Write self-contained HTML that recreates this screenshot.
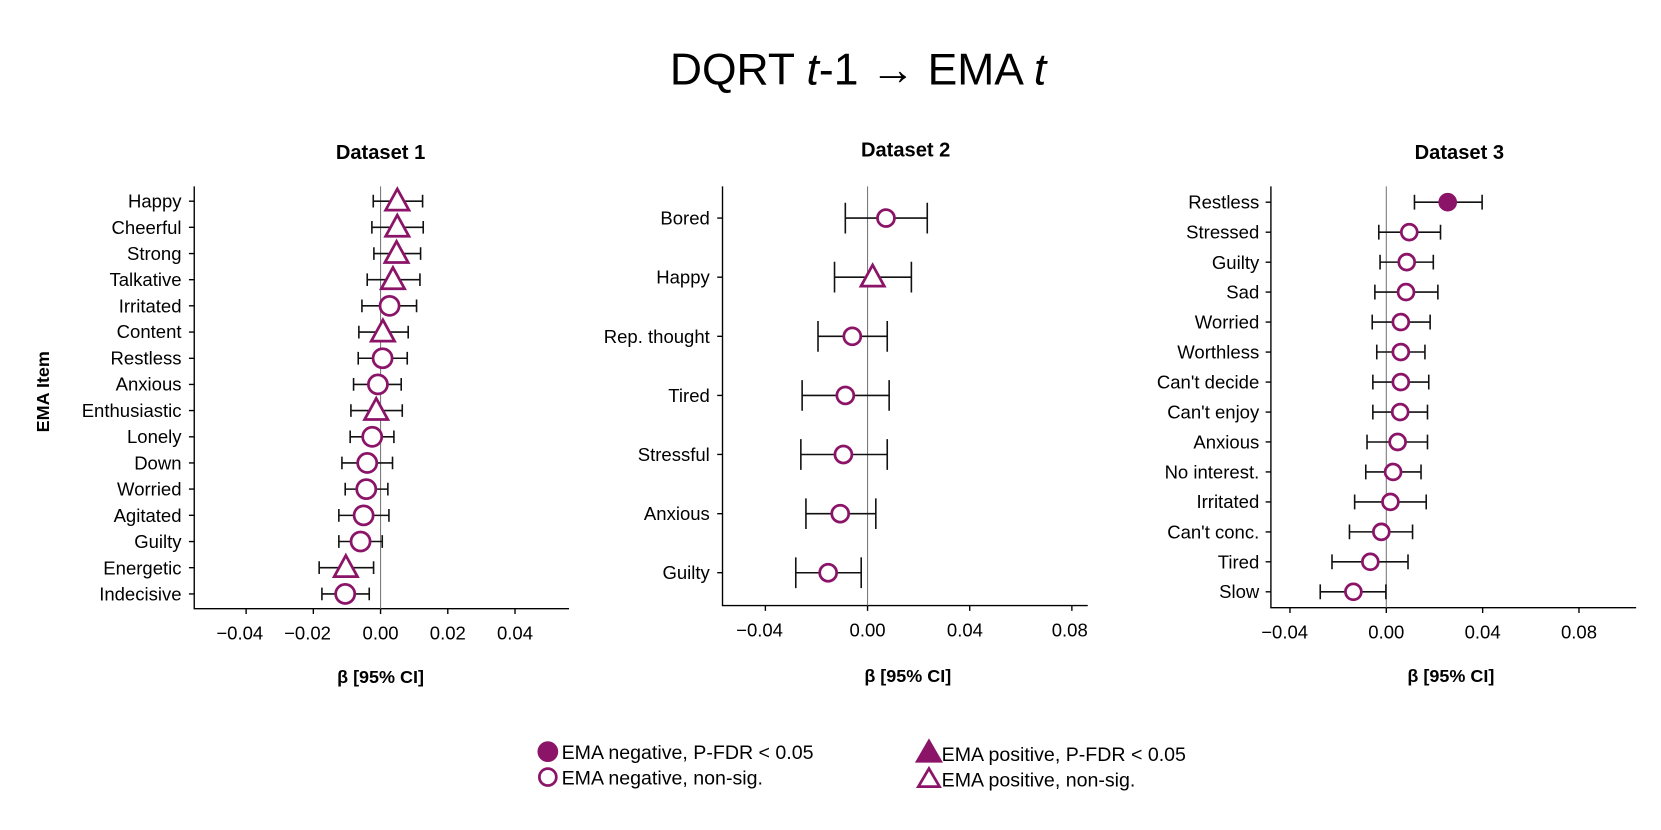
<!DOCTYPE html>
<html><head><meta charset="utf-8"><style>
html,body{margin:0;padding:0;background:#fff;}
svg{display:block;}
text{font-family:"Liberation Sans",Arial,sans-serif;fill:#000;}
.yl{font-size:17.5px;text-anchor:end;}
.xl{font-size:17.5px;text-anchor:middle;}
.t{font-size:19px;font-weight:bold;text-anchor:middle;}
.ax{stroke:#000;stroke-width:1.3;fill:none;}
.z{stroke:#777;stroke-width:1;}
.e{stroke:#111;stroke-width:1.5;fill:none;}
.c{fill:#fff;stroke:#8B1468;stroke-width:2.6;}
.f{fill:#8B1468;stroke:#8B1468;stroke-width:2.6;}
</style></head><body>
<svg width="1661" height="830" viewBox="0 0 1568 784" xmlns="http://www.w3.org/2000/svg">
<defs>
<g id="tri"><polygon points="0,-11.5 11,8.5 -11,8.5" class="c"/></g>
</defs>
<text x="810" y="80" style="font-size:42px;text-anchor:middle">DQRT <tspan font-style="italic">t</tspan>-1 → EMA <tspan font-style="italic">t</tspan></text>

<!-- Panel 1 -->
<text class="t" x="359" y="150">Dataset 1</text>
<text class="t" x="0" y="0" transform="translate(46,370) rotate(-90)" style="font-size:17px">EMA Item</text>
<text class="t" x="359" y="645" style="font-size:17px">β [95% CI]</text>
<path class="ax" d="M183,176 V575 H537"/>
<line class="z" x1="359" y1="176" x2="359" y2="575"/>
<path class="ax" d="M232,575v5M295.5,575v5M359,575v5M422.5,575v5M486,575v5"/>
<text class="xl" x="226" y="604">−0.04</text><text class="xl" x="290" y="604">−0.02</text><text class="xl" x="359" y="604">0.00</text><text class="xl" x="422.5" y="604">0.02</text><text class="xl" x="486" y="604">0.04</text>
<g class="ax">
<path d="M178,190h5M178,214.7h5M178,239.5h5M178,264.2h5M178,288.9h5M178,313.7h5M178,338.4h5M178,363.1h5M178,387.8h5M178,412.6h5M178,437.3h5M178,462h5M178,486.8h5M178,511.5h5M178,536.2h5M178,561h5"/>
</g>
<g>
<text class="yl" x="171" y="196">Happy</text><text class="yl" x="171" y="221">Cheerful</text><text class="yl" x="171" y="245.5">Strong</text><text class="yl" x="171" y="270">Talkative</text><text class="yl" x="171" y="295">Irritated</text><text class="yl" x="171" y="319.5">Content</text><text class="yl" x="171" y="344.5">Restless</text><text class="yl" x="171" y="369">Anxious</text><text class="yl" x="171" y="394">Enthusiastic</text><text class="yl" x="171" y="418.5">Lonely</text><text class="yl" x="171" y="443.5">Down</text><text class="yl" x="171" y="468">Worried</text><text class="yl" x="171" y="493">Agitated</text><text class="yl" x="171" y="517.5">Guilty</text><text class="yl" x="171" y="542.5">Energetic</text><text class="yl" x="171" y="567">Indecisive</text>
</g>
<path class="e" d="M352.1,190H398.7M352.1,184v12M398.7,184v12
M350.8,214.7H399.3M350.8,208.7v12M399.3,208.7v12
M352.7,239.5H396.8M352.7,233.5v12M396.8,233.5v12
M346.4,264.2H396.2M346.4,258.2v12M396.2,258.2v12
M341.4,288.9H393M341.4,282.9v12M393,282.9v12
M338.5,313.7H385.1M338.5,307.7v12M385.1,307.7v12
M337.9,338.4H384.2M337.9,332.4v12M384.2,332.4v12
M333.5,363.1H378.5M333.5,357.1v12M378.5,357.1v12
M331,387.8H379.5M331,381.8v12M379.5,381.8v12
M330.3,412.6H371.6M330.3,406.6v12M371.6,406.6v12
M322.5,437.3H370.3M322.5,431.3v12M370.3,431.3v12
M325.6,462H365.9M325.6,456v12M365.9,456v12
M319.6,486.8H366.9M319.6,480.8v12M366.9,480.8v12
M319.6,511.5H360.6M319.6,505.5v12M360.6,505.5v12
M301,536.2H352.4M301,530.2v12M352.4,530.2v12
M303.6,561H348.3M303.6,555v12M348.3,555v12"/>
<use href="#tri" x="374.8" y="190"/><use href="#tri" x="374.8" y="214.7"/><use href="#tri" x="374.1" y="239.5"/><use href="#tri" x="370.7" y="264.2"/>
<circle class="c" cx="367.5" cy="288.9" r="9"/><use href="#tri" x="361.2" y="313.7"/><circle class="c" cx="360.9" cy="338.4" r="9"/><circle class="c" cx="356.5" cy="363.1" r="9"/><use href="#tri" x="354.9" y="387.8"/>
<circle class="c" cx="351.1" cy="412.6" r="9"/><circle class="c" cx="346.4" cy="437.3" r="9"/><circle class="c" cx="345.5" cy="462" r="9"/><circle class="c" cx="343" cy="486.8" r="9"/><circle class="c" cx="340.1" cy="511.5" r="9"/><use href="#tri" x="326.2" y="536.2"/><circle class="c" cx="325.6" cy="561" r="9"/>

<!-- Panel 2 -->
<text class="t" x="855" y="148">Dataset 2</text>
<text class="t" x="857" y="644" style="font-size:17px">β [95% CI]</text>
<path class="ax" d="M682,176 V572 H1027"/>
<line class="z" x1="819" y1="176" x2="819" y2="572"/>
<path class="ax" d="M722.5,572v5M819,572v5M915.5,572v5M1012,572v5"/>
<text class="xl" x="717" y="601">−0.04</text><text class="xl" x="819" y="601">0.00</text><text class="xl" x="911" y="601">0.04</text><text class="xl" x="1010" y="601">0.08</text>
<path class="ax" d="M677,206h5M677,261.8h5M677,317.7h5M677,373.5h5M677,429.3h5M677,485.2h5M677,541h5"/>
<text class="yl" x="670" y="212">Bored</text><text class="yl" x="670" y="268">Happy</text><text class="yl" x="670" y="324">Rep. thought</text><text class="yl" x="670" y="379.5">Tired</text><text class="yl" x="670" y="435.5">Stressful</text><text class="yl" x="670" y="491">Anxious</text><text class="yl" x="670" y="547">Guilty</text>
<path class="e" d="M798,206H875.4M798,191.5v29M875.4,191.5v29
M787.8,261.8H860.4M787.8,247.3v29M860.4,247.3v29
M772.2,317.7H837.6M772.2,303.2v29M837.6,303.2v29
M757.2,373.5H839.4M757.2,359v29M839.4,359v29
M756,429.3H837.6M756,414.8v29M837.6,414.8v29
M760.8,485.2H826.8M760.8,470.7v29M826.8,470.7v29
M751.2,541H813M751.2,526.5v29M813,526.5v29"/>
<circle class="c" cx="836.4" cy="206" r="8"/><use href="#tri" x="823.8" y="261.8"/><circle class="c" cx="804.6" cy="317.7" r="8"/><circle class="c" cx="798" cy="373.5" r="8"/><circle class="c" cx="796.2" cy="429.3" r="8"/><circle class="c" cx="793.2" cy="485.2" r="8"/><circle class="c" cx="781.8" cy="541" r="8"/>

<!-- Panel 3 -->
<text class="t" x="1378" y="150">Dataset 3</text>
<text class="t" x="1370" y="644" style="font-size:17px">β [95% CI]</text>
<path class="ax" d="M1200,176 V574 H1545"/>
<line class="z" x1="1309" y1="176" x2="1309" y2="574"/>
<path class="ax" d="M1218,574v5M1309,574v5M1400,574v5M1491,574v5"/>
<text class="xl" x="1213" y="603">−0.04</text><text class="xl" x="1309" y="603">0.00</text><text class="xl" x="1400" y="603">0.04</text><text class="xl" x="1491" y="603">0.08</text>
<path class="ax" d="M1195,191h5M1195,219.3h5M1195,247.6h5M1195,275.9h5M1195,304.2h5M1195,332.5h5M1195,360.9h5M1195,389.2h5M1195,417.5h5M1195,445.8h5M1195,474.1h5M1195,502.4h5M1195,530.7h5M1195,559h5"/>
<text class="yl" x="1189" y="197">Restless</text><text class="yl" x="1189" y="225.5">Stressed</text><text class="yl" x="1189" y="254">Guilty</text><text class="yl" x="1189" y="282">Sad</text><text class="yl" x="1189" y="310.5">Worried</text><text class="yl" x="1189" y="338.5">Worthless</text><text class="yl" x="1189" y="367">Can't decide</text><text class="yl" x="1189" y="395.5">Can't enjoy</text><text class="yl" x="1189" y="423.5">Anxious</text><text class="yl" x="1189" y="452">No interest.</text><text class="yl" x="1189" y="480">Irritated</text><text class="yl" x="1189" y="508.5">Can't conc.</text><text class="yl" x="1189" y="537">Tired</text><text class="yl" x="1189" y="565">Slow</text>
<path class="e" d="M1335.6,191H1399.5M1335.6,184v14M1399.5,184v14
M1301.9,219.3H1360.2M1301.9,212.3v14M1360.2,212.3v14
M1303.1,247.6H1353.4M1303.1,240.6v14M1353.4,240.6v14
M1298.2,275.9H1357.7M1298.2,268.9v14M1357.7,268.9v14
M1295.7,304.2H1350.4M1295.7,297.2v14M1350.4,297.2v14
M1300,332.5H1345.5M1300,325.5v14M1345.5,325.5v14
M1296.3,360.9H1349.1M1296.3,353.9v14M1349.1,353.9v14
M1296.3,389.2H1347.9M1296.3,382.2v14M1347.9,382.2v14
M1290.8,417.5H1347.9M1290.8,410.5v14M1347.9,410.5v14
M1289.6,445.8H1341.8M1289.6,438.8v14M1341.8,438.8v14
M1279.1,474.1H1346.7M1279.1,467.1v14M1346.7,467.1v14
M1274.2,502.4H1333.8M1274.2,495.4v14M1333.8,495.4v14
M1257.7,530.7H1329.5M1257.7,523.7v14M1329.5,523.7v14
M1246.6,559H1308.6M1246.6,552v14M1308.6,552v14"/>
<circle class="f" cx="1367" cy="191" r="7.5"/>
<circle class="c" cx="1330.7" cy="219.3" r="7.5"/><circle class="c" cx="1328.3" cy="247.6" r="7.5"/><circle class="c" cx="1327.6" cy="275.9" r="7.5"/><circle class="c" cx="1322.7" cy="304.2" r="7.5"/><circle class="c" cx="1322.7" cy="332.5" r="7.5"/><circle class="c" cx="1322.7" cy="360.9" r="7.5"/><circle class="c" cx="1322.1" cy="389.2" r="7.5"/><circle class="c" cx="1319.7" cy="417.5" r="7.5"/><circle class="c" cx="1315.4" cy="445.8" r="7.5"/><circle class="c" cx="1312.9" cy="474.1" r="7.5"/><circle class="c" cx="1304.3" cy="502.4" r="7.5"/><circle class="c" cx="1293.9" cy="530.7" r="7.5"/><circle class="c" cx="1277.9" cy="559" r="7.5"/>

<!-- Legend -->
<circle class="f" cx="517" cy="710" r="8.5"/>
<text x="530" y="717" style="font-size:18.5px">EMA negative, P-FDR &lt; 0.05</text>
<circle class="c" cx="517" cy="734" r="8"/>
<text x="530" y="741" style="font-size:18.5px">EMA negative, non-sig.</text>
<polygon points="877,700 888,719 866,719" class="f"/>
<text x="889" y="719" style="font-size:18.5px">EMA positive, P-FDR &lt; 0.05</text>
<polygon points="877,726 887,743 867,743" class="c"/>
<text x="889" y="743" style="font-size:18.5px">EMA positive, non-sig.</text>
</svg>
</body></html>
